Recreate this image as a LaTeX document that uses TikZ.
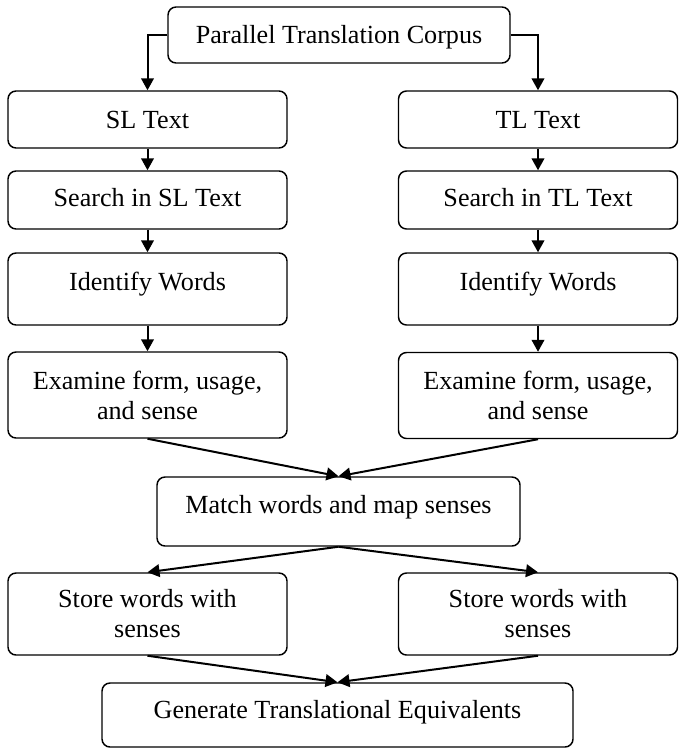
\documentclass[tikz,border=0pt]{standalone}
\usepackage{fontspec}
\setmainfont{Liberation Serif}
\usetikzlibrary{arrows.meta}
\begin{document}
\begin{tikzpicture}[x=0.75pt,y=-0.75pt,
  box/.style={draw, line width=1.1pt, rounded corners=6pt, inner sep=0pt,
    font=\fontsize{19.6pt}{22.5pt}\selectfont, text height=12.9pt, text depth=0pt},
  twoline/.style={draw, line width=1.1pt, rounded corners=6pt, inner sep=0pt,
    font=\fontsize{19.6pt}{22.5pt}\selectfont, align=center},
  colw/.style={minimum width=209.25pt},
  flow/.style={line width=1.5pt, -{Triangle[length=9pt,width=9.5pt]}}]
  \useasboundingbox (0,0) rectangle (680,749);

  % source node
  \node[box, minimum width=256.5pt, minimum height=42pt] (corpus) at (339,35) {Parallel Translation Corpus};

  % source-language column
  \node[box, colw, minimum height=42.75pt] (slt) at (147.5,119.5) {SL Text};
  \node[box, colw, minimum height=43.5pt, text depth=3pt] (sls) at (147.5,200) {Search in SL Text};
  \node[box, colw, minimum height=54pt, text depth=10.5pt] (sli) at (147.5,289) {Identify Words};
  \node[twoline, colw, minimum height=64.5pt] (sle) at (147.5,395) {Examine form, usage,\\and sense};

  % target-language column
  \node[box, colw, minimum height=42.75pt] (tlt) at (538,119.5) {TL Text};
  \node[box, colw, minimum height=43.5pt, text depth=3pt] (tls) at (538,200) {Search in TL Text};
  \node[box, colw, minimum height=54pt, text depth=10.5pt] (tli) at (538,289) {Identify Words};
  \node[twoline, colw, minimum height=64.5pt] (tle) at (538,395.5) {Examine form, usage,\\and sense};

  % matching and storage
  \node[box, minimum width=272.25pt, minimum height=51.75pt, text depth=9.75pt] (match) at (338.5,511.5) {Match words and map senses};
  \node[twoline, colw, minimum height=61.5pt] (slw) at (147.5,614) {Store words with\\senses};
  \node[twoline, colw, minimum height=61.5pt] (tlw) at (538,614) {Store words with\\senses};

  % result
  \node[box, minimum width=353.25pt, minimum height=48pt, text depth=7.5pt] (gen) at (337.5,715) {Generate Translational Equivalents};

  % connectors
  \draw[flow] (corpus.west) -| (slt.north);
  \draw[flow] (corpus.east) -| (tlt.north);
  \draw[flow] (slt) -- (sls);
  \draw[flow] (sls) -- (sli);
  \draw[flow] (sli) -- (sle);
  \draw[flow] (tlt) -- (tls);
  \draw[flow] (tls) -- (tli);
  \draw[flow] (tli) -- (tle);
  \draw[flow] (sle.south) -- (match.north);
  \draw[flow] (tle.south) -- (match.north);
  \draw[flow] (match.south) -- (slw.north);
  \draw[flow] (match.south) -- (tlw.north);
  \draw[flow] (slw.south) -- (gen.north);
  \draw[flow] (tlw.south) -- (gen.north);
\end{tikzpicture}
\end{document}
